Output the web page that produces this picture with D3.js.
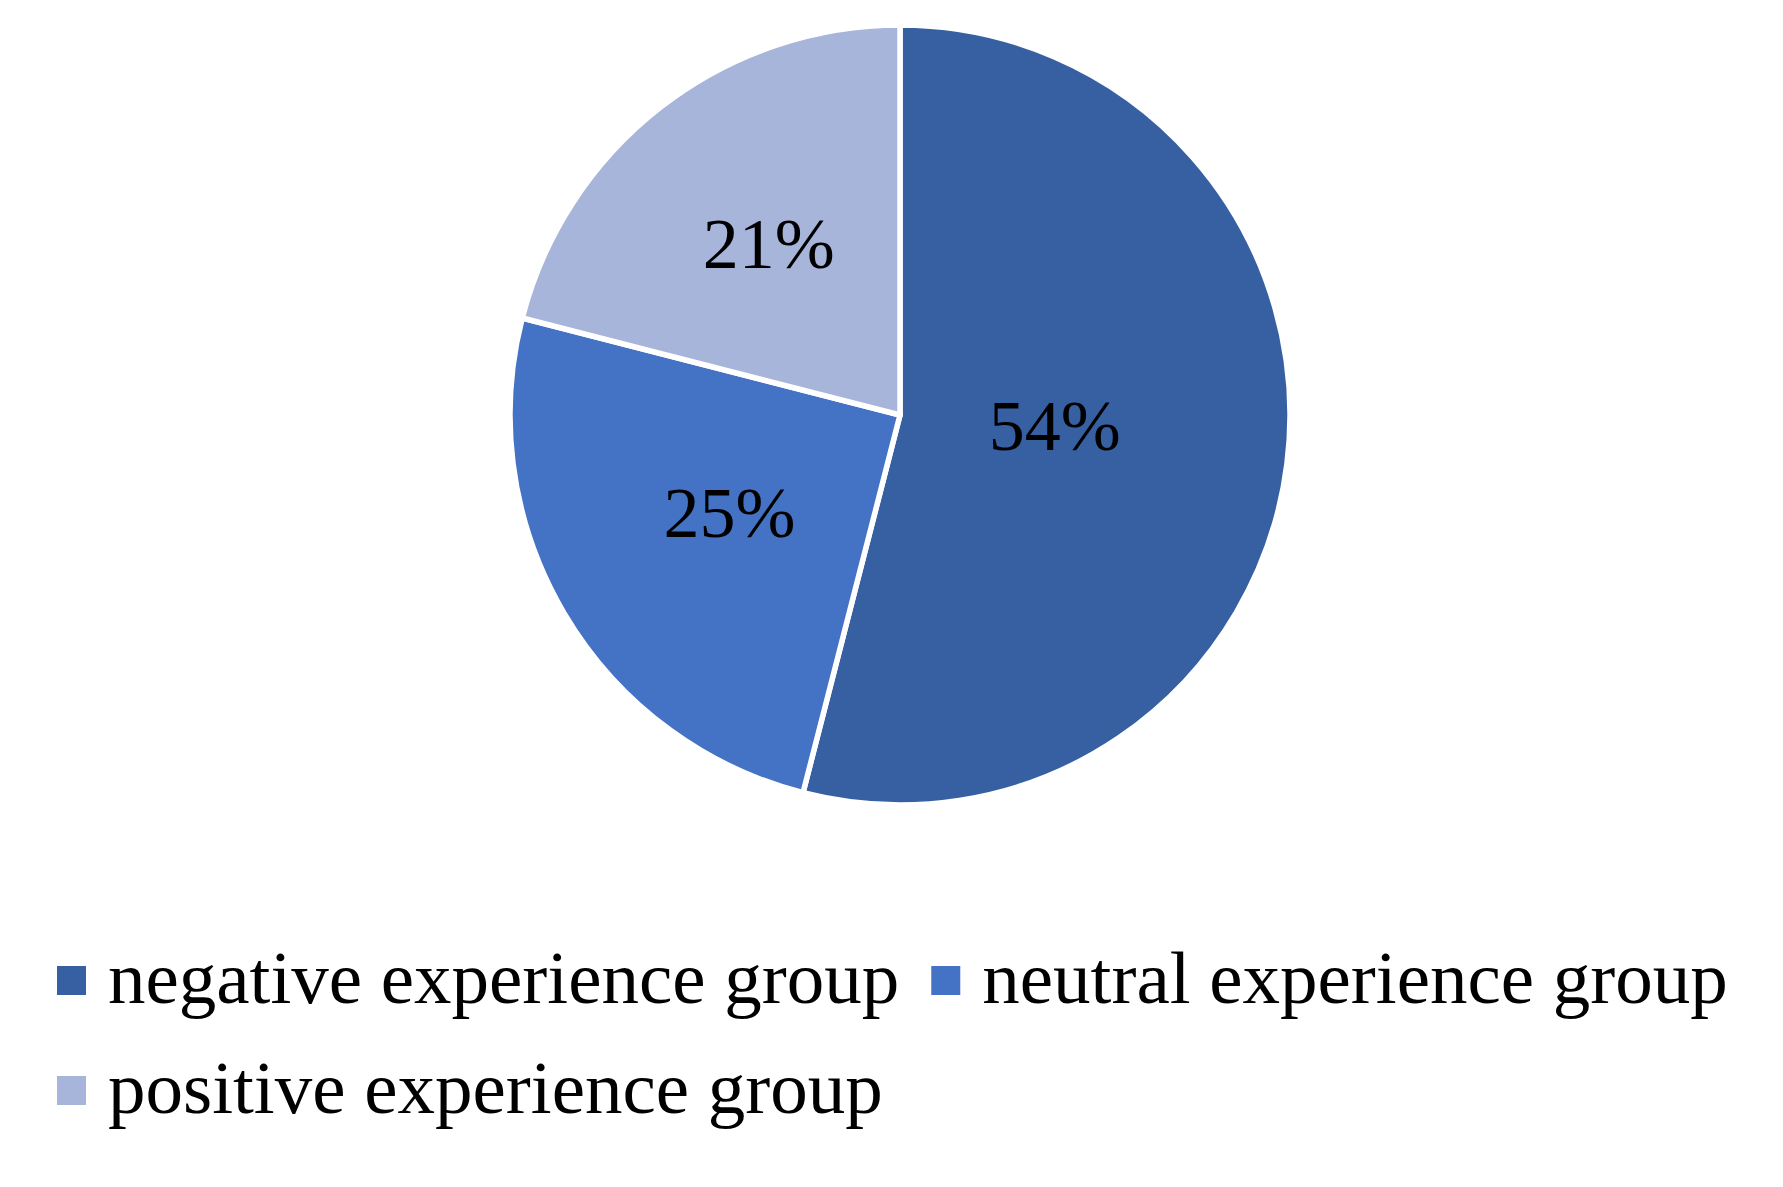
<!DOCTYPE html>
<html>
<head>
<meta charset="utf-8">
<script src="https://cdn.jsdelivr.net/npm/d3@7"></script>
<style>
  html, body { margin: 0; padding: 0; background: #fff; }
  svg { display: block; }
</style>
</head>
<body>
<script>
// ---- data ----
const categories = ["negative experience group", "neutral experience group", "positive experience group"];
const values = [54, 25, 21];
const labels = ["54%", "25%", "21%"];
const colors = ["#3760A3", "#4472C4", "#A8B5DA"];

// ---- layout / style ----
const W = 1783, H = 1187;
const cx = 900, cy = 415, R = 390;
const labelRadiusFactor = [0.40, 0.508, 0.549];
const labelNudgeY = [-9, -3, -2];
const labelFont = 72, legendFont = 75;
const fontFamily = "'Liberation Serif', 'Times New Roman', serif";

const svg = d3.select("body").append("svg").attr("width", W).attr("height", H);

const pie = d3.pie().value(d => d).sort(null);
const arcs = pie(values);
const arc = d3.arc().innerRadius(0).outerRadius(R);

const g = svg.append("g").attr("transform", `translate(${cx},${cy})`);

g.selectAll("path.slice")
  .data(arcs)
  .join("path")
  .attr("class", "slice")
  .attr("d", arc)
  .attr("fill", (d, i) => colors[i])
  .attr("stroke", "#fff")
  .attr("stroke-width", 5.5)
  .attr("stroke-linejoin", "round");

g.selectAll("text.label")
  .data(arcs)
  .join("text")
  .attr("class", "label")
  .attr("transform", (d, i) => {
    const la = d3.arc().innerRadius(0).outerRadius(2 * R * labelRadiusFactor[i]);
    const [x, y] = la.centroid(d);
    return `translate(${x},${y + labelFont * 0.338 + labelNudgeY[i]})`;
  })
  .attr("text-anchor", "middle")
  .attr("font-family", fontFamily)
  .attr("font-size", labelFont)
  .attr("fill", "#000")
  .text((d, i) => labels[i]);

// ---- legend (wrapping rows) ----
const legendLeft = 57, legendMaxRight = 1760;
const sq = 29, sqGap = 22, itemGap = 32;
const rowBaselines = [1003, 1113];
const legend = svg.append("g");

let x = legendLeft, row = 0;
categories.forEach((c, i) => {
  const t = legend.append("text")
    .attr("font-family", fontFamily)
    .attr("font-size", legendFont)
    .attr("fill", "#000")
    .text(c);
  const tw = t.node().getComputedTextLength();
  if (x + sq + sqGap + tw > legendMaxRight && x > legendLeft) {
    row += 1; x = legendLeft;
  }
  const base = rowBaselines[row];
  legend.append("rect")
    .attr("x", x).attr("y", base - 37)
    .attr("width", sq).attr("height", sq)
    .attr("fill", colors[i]);
  t.attr("x", x + sq + sqGap).attr("y", base);
  x += sq + sqGap + tw + itemGap;
});
</script>
</body>
</html>
